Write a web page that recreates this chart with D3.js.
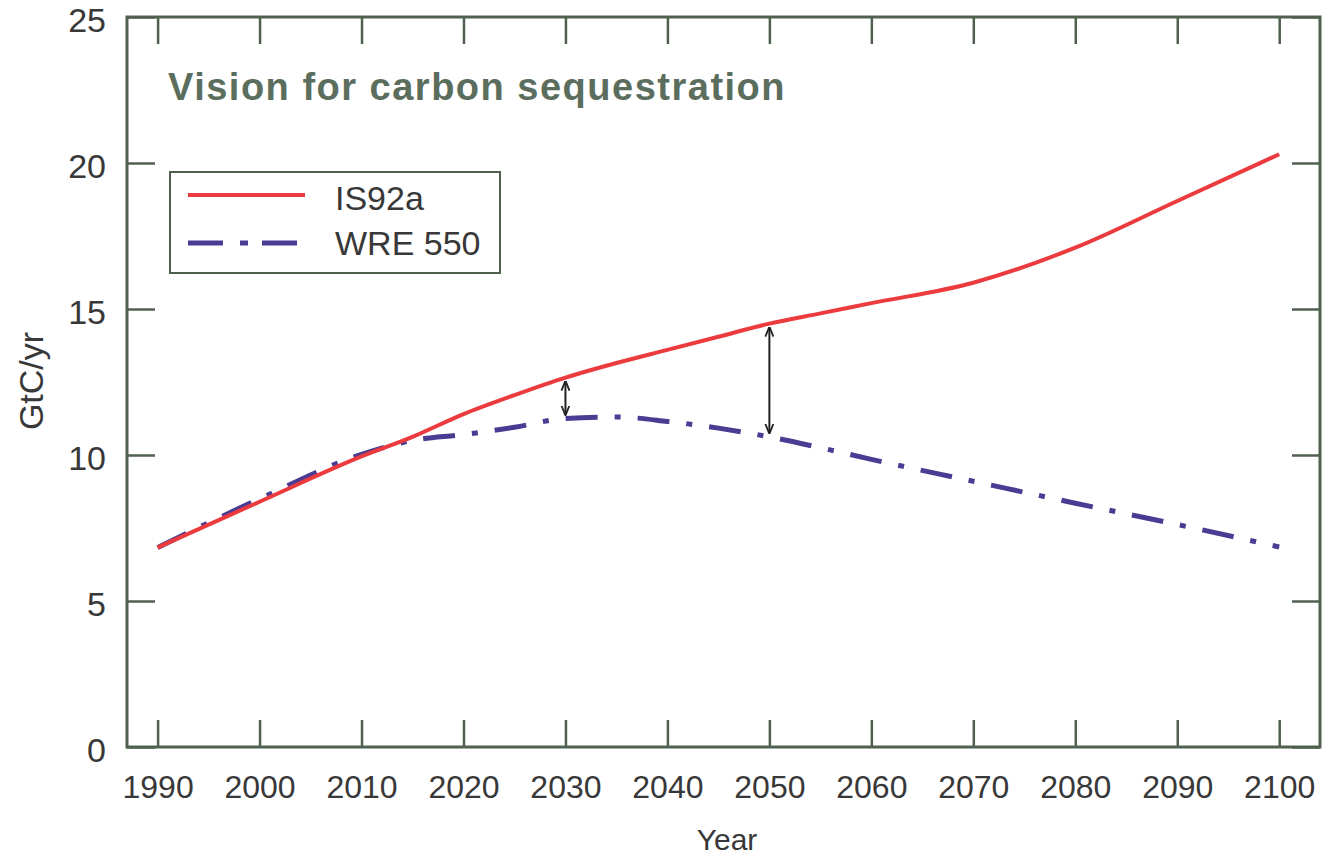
<!DOCTYPE html>
<html>
<head>
<meta charset="utf-8">
<script src="https://cdn.jsdelivr.net/npm/d3@7"></script>
<style>
  body { margin: 0; background: #fff; }
  svg { display: block; }
  text { font-family: "Liberation Sans", Arial, sans-serif; }
</style>
</head>
<body>
<div id="chart"></div>
<script>
// values
var years  = [1990, 2000, 2010, 2015, 2020, 2025, 2030, 2035, 2040, 2045, 2050, 2055, 2060, 2070, 2080, 2090, 2100];
var is92a  = [6.83, 8.4, 9.95, 10.62, 11.4, 12.05, 12.65, 13.15, 13.6, 14.05, 14.5, 14.85, 15.2, 15.9, 17.1, 18.7, 20.3];
var wre550 = [6.83, 8.5, 10.02, 10.5, 10.7, 10.95, 11.25, 11.3, 11.15, 10.92, 10.62, 10.25, 9.85, 9.1, 8.35, 7.62, 6.85];
var xTicks = [1990, 2000, 2010, 2020, 2030, 2040, 2050, 2060, 2070, 2080, 2090, 2100];
var yTicks = [0, 5, 10, 15, 20, 25];
var gapYears = [2030, 2050];
var seriesNames = ["IS92a", "WRE 550"];

var W = 1328, H = 855;
// plot frame (don't call these top/left: window.top is read only)
var pLeft = 127, pRight = 1320, pTop = 17, pBottom = 747;
var frameCol = "#50604f";
var red = "#ec3b3e", purple = "#4b3c93";
var dash = "32,17,6,17";

var svg = d3.select("#chart").append("svg")
    .attr("width", W)
    .attr("height", H);

var x = d3.scaleLinear().domain([1987, 2104]).range([pLeft, pRight]);
var y = d3.scaleLinear().domain([0, 25]).range([pBottom, pTop]);

// inward ticks on all four sides
var gx = svg.append("g").attr("transform", "translate(0," + pBottom + ")")
    .call(d3.axisBottom(x).tickValues(xTicks).tickFormat(d3.format("d"))
        .tickSizeInner(-27).tickSizeOuter(0).tickPadding(28));
var gxt = svg.append("g").attr("transform", "translate(0," + pTop + ")")
    .call(d3.axisTop(x).tickValues(xTicks).tickFormat("")
        .tickSizeInner(-27).tickSizeOuter(0));
var gy = svg.append("g").attr("transform", "translate(" + pLeft + ",0)")
    .call(d3.axisLeft(y).tickValues(yTicks)
        .tickSizeInner(-28).tickSizeOuter(0).tickPadding(21));
var gyr = svg.append("g").attr("transform", "translate(" + pRight + ",0)")
    .call(d3.axisRight(y).tickValues(yTicks).tickFormat("")
        .tickSizeInner(-28).tickSizeOuter(0));

[gx, gxt, gy, gyr].forEach(function(g) {
    g.select(".domain").remove();
    g.selectAll("line").attr("stroke", frameCol).attr("stroke-width", 2.5);
    g.selectAll("text").attr("fill", "#383838").style("font-family", "Liberation Sans, Arial, sans-serif");
});
gx.selectAll("text").style("font-size", "32px");
gy.selectAll("text").style("font-size", "34px").attr("dy", "0.42em");

svg.append("rect")
    .attr("x", pLeft).attr("y", pTop)
    .attr("width", pRight - pLeft).attr("height", pBottom - pTop)
    .attr("fill", "none")
    .attr("stroke", frameCol)
    .attr("stroke-width", 3);

// axis titles
svg.append("text")
    .attr("transform", "translate(43,381) rotate(-90)")
    .attr("text-anchor", "middle")
    .attr("fill", "#383838")
    .style("font-size", "34px")
    .text("GtC/yr");

svg.append("text")
    .attr("x", 727).attr("y", 850)
    .attr("text-anchor", "middle")
    .attr("fill", "#383838")
    .style("font-size", "30px")
    .text("Year");

// title
svg.append("text")
    .attr("x", 168).attr("y", 100)
    .attr("fill", "#5b6e5d")
    .style("font-size", "38px")
    .style("font-weight", "bold")
    .style("letter-spacing", "1.5px")
    .text("Vision for carbon sequestration");

// lines
var line = d3.line()
    .x(function(d) { return x(d[0]); })
    .y(function(d) { return y(d[1]); })
    .curve(d3.curveMonotoneX);

svg.append("path")
    .datum(years.map(function(yr, i) { return [yr, wre550[i]]; }))
    .attr("d", line)
    .attr("fill", "none")
    .attr("stroke", purple)
    .attr("stroke-width", 5)
    .attr("stroke-dasharray", dash);

svg.append("path")
    .datum(years.map(function(yr, i) { return [yr, is92a[i]]; }))
    .attr("d", line)
    .attr("fill", "none")
    .attr("stroke", red)
    .attr("stroke-width", 4);

// double arrows showing the gap
var defs = svg.append("defs");
defs.append("marker")
    .attr("id", "ah")
    .attr("viewBox", "0 0 10 10")
    .attr("refX", 9).attr("refY", 5)
    .attr("markerWidth", 5).attr("markerHeight", 5)
    .attr("orient", "auto-start-reverse")
    .append("path")
    .attr("d", "M0,1 L10,5 L0,9")
    .attr("fill", "none")
    .attr("stroke", "#222")
    .attr("stroke-width", 1.8);

function valAt(arr, yr) {
    var i = years.indexOf(yr);
    return arr[i];
}

svg.selectAll(".gap")
    .data(gapYears)
    .enter()
    .append("line")
    .attr("class", "gap")
    .attr("x1", function(d) { return x(d); })
    .attr("x2", function(d) { return x(d); })
    .attr("y1", function(d) { return y(valAt(is92a, d)) + 4; })
    .attr("y2", function(d) { return y(valAt(wre550, d)) - 4; })
    .attr("stroke", "#222")
    .attr("stroke-width", 2)
    .attr("marker-start", "url(#ah)")
    .attr("marker-end", "url(#ah)");

// legend
var lg = svg.append("g");
lg.append("rect")
    .attr("x", 170).attr("y", 172)
    .attr("width", 330).attr("height", 101)
    .attr("fill", "#fff")
    .attr("stroke", frameCol)
    .attr("stroke-width", 2);

var legendItems = [
    {name: seriesNames[0], col: red, w: 4, dash: null, ly: 195, ty: 210},
    {name: seriesNames[1], col: purple, w: 5, dash: "35,17,8,14", ly: 243, ty: 255}
];
legendItems.forEach(function(d) {
    lg.append("line")
        .attr("x1", 188).attr("x2", 305)
        .attr("y1", d.ly).attr("y2", d.ly)
        .attr("stroke", d.col)
        .attr("stroke-width", d.w)
        .attr("stroke-dasharray", d.dash);
    lg.append("text")
        .attr("x", 335).attr("y", d.ty)
        .attr("fill", "#383838")
        .style("font-size", "34px")
        .text(d.name);
});
</script>
</body>
</html>
